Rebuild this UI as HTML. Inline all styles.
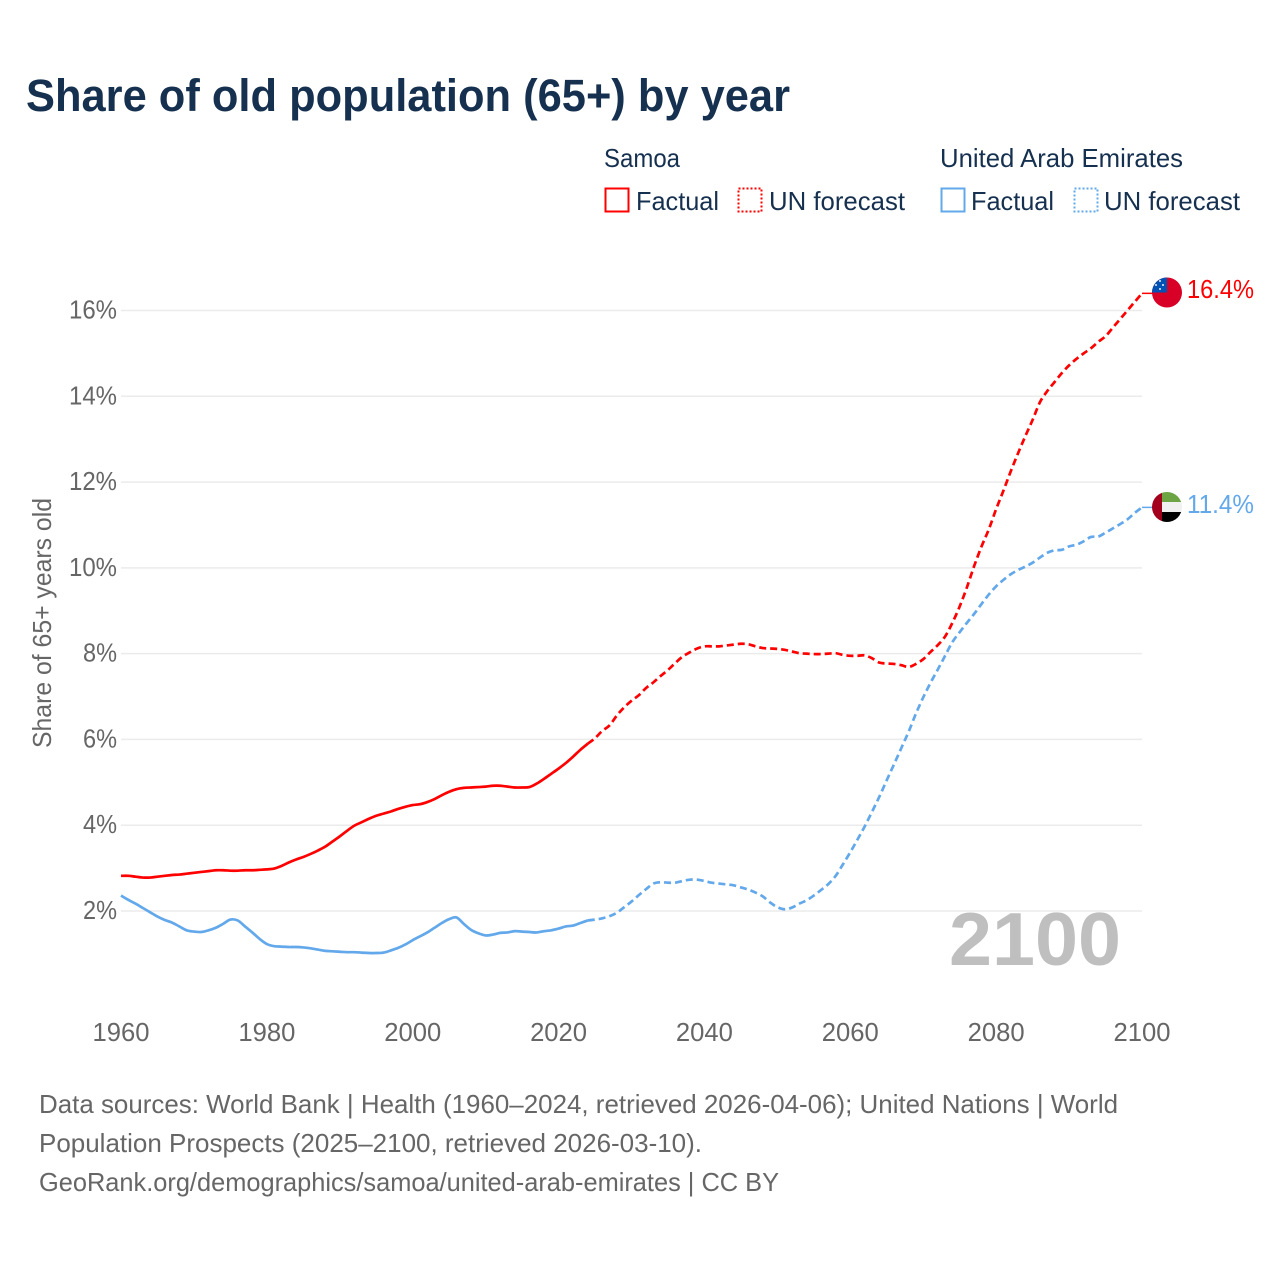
<!DOCTYPE html>
<html lang="en">
<head>
<meta charset="utf-8">
<title>Share of old population (65+) by year</title>
<style>
html,body{margin:0;padding:0;background:#fff;}
svg{display:block;font-family:"Liberation Sans",sans-serif;}
</style>
</head>
<body>
<svg id="chart" xmlns="http://www.w3.org/2000/svg" width="1280" height="1280" viewBox="0 0 1280 1280">
  <defs>
    <clipPath id="flag-clip-a"><circle cx="1167" cy="292.5" r="15"/></clipPath>
    <clipPath id="flag-clip-b"><circle cx="1167" cy="507" r="15"/></clipPath>
  </defs>
  <rect x="0" y="0" width="1280" height="1280" fill="#fff"/>
  <text x="26" y="111" font-size="45" font-weight="700" fill="#16304f" textLength="764" lengthAdjust="spacingAndGlyphs">Share of old population (65+) by year</text>

  <g font-size="26" fill="#16304f">
    <text x="604" y="167" textLength="76" lengthAdjust="spacingAndGlyphs">Samoa</text>
    <rect x="605.5" y="188.5" width="23" height="23" fill="none" stroke="#ff0000" stroke-width="2"/>
    <text x="636" y="210" textLength="83" lengthAdjust="spacingAndGlyphs">Factual</text>
    <rect x="738.5" y="188.5" width="23" height="23" fill="none" stroke="#ff0000" stroke-width="2" stroke-dasharray="2 2"/>
    <text x="769" y="210" textLength="136" lengthAdjust="spacingAndGlyphs">UN forecast</text>
    <text x="940" y="167" textLength="243" lengthAdjust="spacingAndGlyphs">United Arab Emirates</text>
    <rect x="941.5" y="188.5" width="23" height="23" fill="none" stroke="#62a8ea" stroke-width="2"/>
    <text x="971" y="210" textLength="83" lengthAdjust="spacingAndGlyphs">Factual</text>
    <rect x="1074.5" y="188.5" width="23" height="23" fill="none" stroke="#62a8ea" stroke-width="2" stroke-dasharray="2 2"/>
    <text x="1104" y="210" textLength="136" lengthAdjust="spacingAndGlyphs">UN forecast</text>
  </g>

  <g id="grid"></g>
  <g id="y-labels" font-size="26" fill="#666"></g>
  <g id="x-labels" font-size="26" fill="#666"></g>
  <text transform="translate(51,748) rotate(-90)" x="0" y="0" font-size="26" fill="#666" textLength="250" lengthAdjust="spacingAndGlyphs">Share of 65+ years old</text>

  <text x="949" y="965" font-size="75" font-weight="700" fill="#bfbfbf" textLength="172" lengthAdjust="spacingAndGlyphs">2100</text>

  <g id="series"></g>

  <g clip-path="url(#flag-clip-a)">
    <rect x="1152" y="277" width="30" height="31" fill="#d80027"/>
    <rect x="1152" y="277" width="15" height="15.5" fill="#0052b4"/>
    <g fill="#f0f0f0"><circle cx="1160" cy="281" r="1"/><circle cx="1156" cy="285" r="1"/><circle cx="1163" cy="285" r="1"/><circle cx="1160" cy="289" r="1"/></g>
  </g>
  <g clip-path="url(#flag-clip-b)">
    <rect x="1162" y="492" width="20" height="10" fill="#6da544"/>
    <rect x="1162" y="502" width="20" height="10" fill="#f0f0f0"/>
    <rect x="1162" y="512" width="20" height="10" fill="#000"/>
    <rect x="1152" y="492" width="10" height="30" fill="#a2001d"/>
  </g>
  <text id="value-samoa" x="1187" y="298" font-size="26" fill="#ff0000" textLength="67" lengthAdjust="spacingAndGlyphs"></text>
  <text id="value-uae" x="1187" y="513" font-size="26" fill="#62a8ea" textLength="67" lengthAdjust="spacingAndGlyphs"></text>

  <g font-size="26" fill="#666">
    <text x="39" y="1113" textLength="1079" lengthAdjust="spacingAndGlyphs">Data sources: World Bank | Health (1960–2024, retrieved 2026-04-06); United Nations | World</text>
    <text x="39" y="1152" textLength="663" lengthAdjust="spacingAndGlyphs">Population Prospects (2025–2100, retrieved 2026-03-10).</text>
    <text x="39" y="1191" textLength="740" lengthAdjust="spacingAndGlyphs">GeoRank.org/demographics/samoa/united-arab-emirates | CC BY</text>
  </g>
</svg>
<script>
const yTicks = [2, 4, 6, 8, 10, 12, 14, 16];
const xTicks = [1960, 1980, 2000, 2020, 2040, 2060, 2080, 2100];
const factualStartYear = 1960;
const forecastStartYear = 2024;

const samoaFactual = [2.82,2.82,2.80,2.78,2.78,2.80,2.82,2.84,2.85,2.87,
  2.89,2.91,2.93,2.95,2.95,2.94,2.94,2.95,2.95,2.96,
  2.97,2.99,3.05,3.13,3.20,3.26,3.33,3.41,3.50,3.62,
  3.74,3.87,3.99,4.07,4.15,4.22,4.27,4.32,4.38,4.43,
  4.47,4.49,4.54,4.61,4.70,4.78,4.84,4.87,4.88,4.89,
  4.90,4.92,4.92,4.90,4.88,4.88,4.89,4.97,5.08,5.20,
  5.32,5.45,5.60,5.76,5.90];
const samoaForecast = [5.90,6.03,6.20,6.33,6.56,6.75,
  6.90,7.03,7.20,7.33,7.48,7.62,7.78,7.93,8.03,8.12,
  8.17,8.17,8.17,8.19,8.21,8.23,8.22,8.17,8.13,8.12,
  8.11,8.09,8.05,8.01,8.00,7.99,7.99,8.00,8.01,7.97,
  7.95,7.95,7.96,7.89,7.79,7.77,7.76,7.73,7.69,7.76,
  7.87,8.04,8.20,8.40,8.72,9.10,9.55,10.05,10.50,10.90,
  11.37,11.80,12.25,12.67,13.07,13.45,13.86,14.12,14.33,14.54,
  14.72,14.87,15.00,15.12,15.27,15.40,15.60,15.80,16.00,16.20,
  16.40];
const uaeFactual = [2.36,2.26,2.17,2.07,1.97,1.87,1.79,1.73,1.64,1.55,
  1.52,1.51,1.55,1.61,1.70,1.80,1.78,1.64,1.50,1.35,
  1.23,1.18,1.17,1.16,1.16,1.15,1.13,1.10,1.07,1.06,
  1.05,1.04,1.04,1.03,1.02,1.02,1.03,1.08,1.14,1.22,
  1.32,1.41,1.50,1.61,1.72,1.81,1.85,1.70,1.56,1.48,
  1.43,1.45,1.49,1.50,1.53,1.52,1.51,1.50,1.53,1.55,
  1.59,1.64,1.66,1.72,1.78];
const uaeForecast = [1.78,1.80,1.83,1.88,1.96,2.09,
  2.22,2.37,2.51,2.64,2.67,2.66,2.66,2.70,2.73,2.73,
  2.70,2.66,2.64,2.62,2.60,2.55,2.50,2.43,2.34,2.20,
  2.09,2.04,2.08,2.17,2.25,2.36,2.49,2.63,2.82,3.09,
  3.37,3.67,3.98,4.32,4.67,5.05,5.42,5.80,6.18,6.60,
  6.98,7.32,7.63,7.95,8.27,8.50,8.72,8.93,9.16,9.38,
  9.57,9.72,9.85,9.95,10.03,10.12,10.24,10.35,10.41,10.42,
  10.50,10.54,10.62,10.72,10.73,10.82,10.92,11.02,11.13,11.28,
  11.41];
const samoaValueLabel = '16.4%';
const uaeValueLabel = '11.4%';

const NS = 'http://www.w3.org/2000/svg';
function xScale(year) { return 121 + (year - 1960) * (1142 - 121) / 140; }
function yScale(v) { return 911 - (v - 2) * (911 - 310.5) / 14; }
function make(tag, attrs, parent) {
  const el = document.createElementNS(NS, tag);
  for (const k in attrs) el.setAttribute(k, attrs[k]);
  parent.appendChild(el);
  return el;
}
function smoothPath(values, startYear) {
  const pts = values.map((v, i) => [xScale(startYear + i), yScale(v)]);
  let d = 'M' + pts[0][0].toFixed(2) + ' ' + pts[0][1].toFixed(2);
  for (let i = 0; i < pts.length - 1; i++) {
    const p0 = pts[i - 1] || pts[i], p1 = pts[i], p2 = pts[i + 1], p3 = pts[i + 2] || p2;
    const c1x = p1[0] + (p2[0] - p0[0]) / 6, c1y = p1[1] + (p2[1] - p0[1]) / 6;
    const c2x = p2[0] - (p3[0] - p1[0]) / 6, c2y = p2[1] - (p3[1] - p1[1]) / 6;
    d += 'C' + c1x.toFixed(2) + ' ' + c1y.toFixed(2) + ' ' + c2x.toFixed(2) + ' ' + c2y.toFixed(2) + ' ' + p2[0].toFixed(2) + ' ' + p2[1].toFixed(2);
  }
  return d;
}

const grid = document.getElementById('grid');
const yLabels = document.getElementById('y-labels');
yTicks.forEach(function (t) {
  const line = make('line', { x1: 121, x2: 1142, y1: yScale(t), y2: yScale(t), stroke: '#ebebeb', 'stroke-width': 1.5 }, grid);
  
  
  const label = make('text', { x: t >= 10 ? 69 : 83, y: yScale(t) + 8, textLength: t >= 10 ? 48 : 34, lengthAdjust: 'spacingAndGlyphs' }, yLabels);
  
  
  label.textContent = t + '%';
});

const xLabels = document.getElementById('x-labels');
xTicks.forEach(function (t) {
  const label = make('text', { x: xScale(t) - 28.5, y: 1041, textLength: 57, lengthAdjust: 'spacingAndGlyphs' }, xLabels);
  
  
  label.textContent = t;
});

const series = document.getElementById('series');
function drawSeries(values, startYear, color, dashed) {
  const attrs = { d: smoothPath(values, startYear), fill: 'none', stroke: color, 'stroke-width': 2.7, 'stroke-linejoin': 'round' };
  if (dashed) attrs['stroke-dasharray'] = '7 4';
  return make('path', attrs, series);
}
const uaeF = drawSeries(uaeFactual, factualStartYear, '#62a8ea', false);


const uaeP = drawSeries(uaeForecast, forecastStartYear, '#62a8ea', true);


const samoaF = drawSeries(samoaFactual, factualStartYear, '#ff0000', false);


const samoaP = drawSeries(samoaForecast, forecastStartYear, '#ff0000', true);



const lastSamoa = samoaForecast[samoaForecast.length - 1];
const lastUae = uaeForecast[uaeForecast.length - 1];
const connA = make('line', { x1: 1142, x2: 1153, y1: yScale(lastSamoa), y2: yScale(lastSamoa), stroke: '#ff0000', 'stroke-width': 1.5 }, series);


const connB = make('line', { x1: 1142, x2: 1153, y1: yScale(lastUae), y2: yScale(lastUae), stroke: '#62a8ea', 'stroke-width': 1.5 }, series);



document.getElementById('value-samoa').textContent = samoaValueLabel;
document.getElementById('value-uae').textContent = uaeValueLabel;
</script>
</body>
</html>
